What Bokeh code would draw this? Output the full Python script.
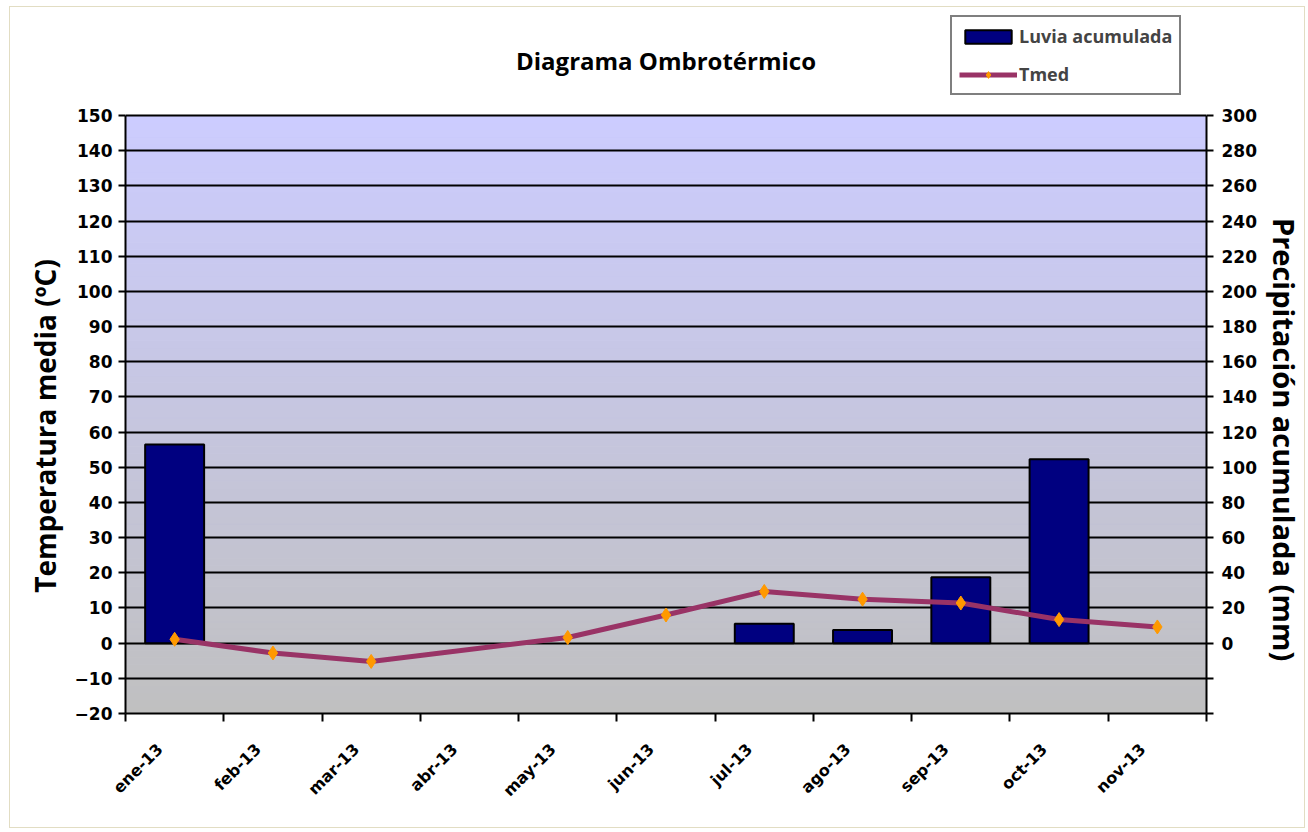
import numpy as np
from bokeh.plotting import figure
from bokeh.models import (Range1d, LinearAxis, FixedTicker, Legend, LegendItem,
                          ColumnDataSource, Label)
from bokeh.embed import file_html
from bokeh.resources import INLINE

# ---------------- data ----------------
months = ["ene-13", "feb-13", "mar-13", "abr-13", "may-13", "jun-13",
          "jul-13", "ago-13", "sep-13", "oct-13", "nov-13"]
lluvia_mm = [113, None, None, None, None, None, 11, 7.5, 37.5, 104.5, None]
tmed = [1.1, -2.8, -5.2, None, 1.6, 8.0, 14.7, 12.5, 11.4, 6.7, 4.6]
temp_ticks = list(range(-20, 151, 10))
precip_ticks = list(range(-40, 301, 20))

title_text = "Diagrama Ombrotérmico"
left_label = "Temperatura media (ºC)"
right_label = "Precipitación acumulada (mm)"

# ---------------- layout constants (pixels) ----------------
W, H = 1296, 822
FL, FR, FB = 115, 1203, 706          # frame left/right/bottom in figure px
PLOT_TOP = 108                       # where the top tick (150) sits
ppu = (FB - PLOT_TOP) / (temp_ticks[-1] - temp_ticks[0])
y_lo = temp_ticks[0]
y_hi = temp_ticks[-1] + PLOT_TOP / ppu
ratio = precip_ticks[-1] / temp_ticks[-1]
PAD = "\u00a0"                        # shifts axis titles toward plot centre

# ---------------- derived ----------------
n = len(months)
centers = [i + 0.5 for i in range(n)]
bounds = list(range(n + 1))
label_pos = [c - 0.15 for c in centers]

bar_src = ColumnDataSource(dict(
    x=[c for c, v in zip(centers, lluvia_mm) if v is not None],
    top=[v for v in lluvia_mm if v is not None]))
t_src = ColumnDataSource(dict(
    x=[c for c, v in zip(centers, tmed) if v is not None],
    y=[v for v in tmed if v is not None]))

TICK_FONT = "DejaVu Sans"
TXT_FONT = "Open Sans"

p = figure(width=W, height=H, output_backend="svg", toolbar_location=None,
           x_range=Range1d(0, n), y_range=Range1d(y_lo, y_hi),
           min_border_left=FL, min_border_right=W - FR, min_border_top=0,
           min_border_bottom=H - FB, title=None)
p.extra_y_ranges = {"mm": Range1d(y_lo * ratio, y_hi * ratio)}
p.styles = {"border": "1px solid #e2ddc3", "margin-left": "9px",
            "margin-top": "6px"}

# gradient background of the plot area
y0, y1 = temp_ticks[0], temp_ticks[-1]
nb = 85
edges = np.linspace(y0, y1, nb + 1)
top_rgb = np.array([204, 204, 255])
bot_rgb = np.array([192, 192, 192])
cols = []
for k in range(nb):
    f = ((edges[k] + edges[k + 1]) / 2 - y0) / (y1 - y0)
    c = bot_rgb + (top_rgb - bot_rgb) * f
    cols.append("#%02x%02x%02x" % tuple(int(round(v)) for v in c))
p.quad(left=0, right=n, bottom=edges[:-1], top=edges[1:], fill_color=cols,
       line_color=cols, line_width=1, level="image")

p.background_fill_color = "white"
p.border_fill_color = "white"
p.outline_line_color = None

# grid
p.xgrid.visible = False
p.ygrid.ticker = FixedTicker(ticks=temp_ticks)
p.ygrid.grid_line_color = "black"
p.ygrid.grid_line_width = 2

# bars (right axis)
bars = p.vbar(x="x", top="top", bottom=0, width=0.6, source=bar_src,
              y_range_name="mm", fill_color="#000080", line_color="black",
              line_width=2)
# temperature line (left axis)
tline = p.line("x", "y", source=t_src, line_color="#993366", line_width=5)
tmark = p.scatter("x", "y", source=t_src, marker="diamond", size=14,
                  fill_color="#FF9900", line_color="#FF9900")

# axes styling
xa = p.xaxis[0]
xa.ticker = FixedTicker(ticks=label_pos, minor_ticks=bounds)
xa.major_label_overrides = {c: m for c, m in zip(label_pos, months)}
xa.major_label_orientation = np.pi / 4
xa.major_tick_out = 0
xa.major_tick_in = 0
xa.minor_tick_out = 8
xa.minor_tick_in = 0
xa.minor_tick_line_width = 2
xa.minor_tick_line_color = "black"
xa.major_label_standoff = 25

ya = p.yaxis[0]
ya.ticker = FixedTicker(ticks=temp_ticks)
ya.bounds = (temp_ticks[0], temp_ticks[-1])
ya.axis_label = left_label + PAD * 18
ya.axis_label_text_font_size = "28px"

ra = LinearAxis(y_range_name="mm", ticker=FixedTicker(ticks=precip_ticks),
                bounds=(precip_ticks[0], precip_ticks[-1]),
                major_label_overrides={t: "" for t in precip_ticks if t < 0},
                axis_label=PAD * 21 + right_label)
ra.axis_label_text_font_size = "29px"
ra.axis_label_orientation = "vertical"
p.add_layout(ra, "right")

for ax in (xa, ya, ra):
    ax.axis_line_color = "black"
    ax.axis_line_width = 2
    ax.major_tick_line_color = "black"
    ax.major_tick_line_width = 2
    ax.major_label_text_font = TICK_FONT
    ax.major_label_text_font_style = "bold"
    ax.major_label_text_font_size = "16px"
    ax.major_label_text_color = "black"
    ax.axis_label_text_font = TXT_FONT
    ax.axis_label_text_font_style = "bold"
    ax.axis_label_text_color = "black"
for ax in (ya, ra):
    ax.major_label_text_font_size = "17px"
    ax.major_tick_out = 7
    ax.major_tick_in = 0
    ax.minor_tick_out = 0
    ax.minor_tick_in = 0
ya.major_label_standoff = 6
ya.axis_label_standoff = 8
ra.major_label_standoff = 8
ra.axis_label_standoff = 5

# title (inside the tall frame, above the plotting area)
p.add_layout(Label(x=n / 2, y=FB - 53, x_units="data", y_units="screen",
                   text=title_text, text_align="center",
                   text_baseline="middle", text_font=TXT_FONT,
                   text_font_style="bold", text_font_size="24px",
                   text_color="black"))

# legend
legend = Legend(items=[LegendItem(label="Luvia acumulada", renderers=[bars]),
                       LegendItem(label="Tmed", renderers=[tline, tmark])],
                location=(940 - FL, FB - 88), orientation="vertical",
                border_line_color="black", border_line_width=2,
                background_fill_color="white", background_fill_alpha=1,
                label_text_font=TXT_FONT, label_text_font_style="bold",
                label_text_font_size="18px", glyph_width=58, glyph_height=17,
                spacing=14, padding=7, margin=0, label_standoff=2)
p.add_layout(legend)

open("out.html", "w").write(file_html(p, INLINE))
